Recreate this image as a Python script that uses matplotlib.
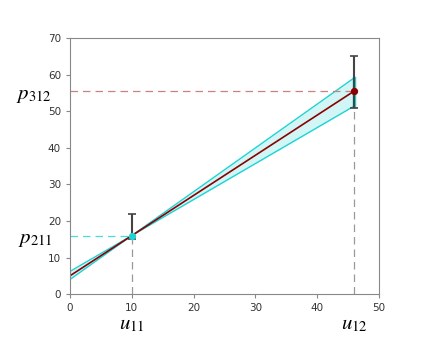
import matplotlib
matplotlib.use('Agg')
import matplotlib.pyplot as plt
import numpy as np

plt.rcParams['mathtext.fontset'] = 'stix'

# data
u_points = [10, 46]
p_points = [16, 55.5]
err_low = [1.0, 4.5]
err_high = [6.0, 9.7]
band_x = [0, 10, 46]
band_upper = [6.2, 16, 59.1]
band_lower = [4.0, 16, 51.4]
fit_x = [0, 46]
fit_y = [5.0, 55.5]
x_labels = [r'$u_{11}$', r'$u_{12}$']
y_labels = [r'$p_{211}$', r'$p_{312}$']

fig = plt.figure(figsize=(4.4, 3.46), dpi=100)
ax = fig.add_axes([0.159, 0.150, 0.702, 0.740])

cyan = '#1fd3d3'
dark_red = '#8b0000'

# confidence band
ax.fill_between(band_x, band_lower, band_upper, color=cyan, alpha=0.2, lw=0)
ax.plot(band_x, band_upper, color=cyan, lw=1)
ax.plot(band_x, band_lower, color=cyan, lw=1)
ax.plot([band_x[-1], band_x[-1]], [band_lower[-1], band_upper[-1]], color=cyan, lw=2.5)

# fitted line
ax.plot(fit_x, fit_y, color=dark_red, lw=1.2)

# guide lines
dash = (0, (6, 4))
ax.plot([0, u_points[0]], [p_points[0], p_points[0]], ls=dash, color=cyan, lw=0.9, alpha=0.8)
ax.plot([0, u_points[1]], [p_points[1], p_points[1]], ls=dash, color='#c98080', lw=0.9)
ax.plot([u_points[0], u_points[0]], [0, p_points[0]], ls=dash, color='#999999', lw=0.9)
ax.plot([u_points[1], u_points[1]], [0, p_points[1] - err_low[1]], ls=dash, color='#999999', lw=0.9)

# error bars
ax.errorbar(u_points, p_points, yerr=[err_low, err_high], fmt='none', ecolor='#444444',
            elinewidth=1.5, capsize=3, capthick=1.2, zorder=3)
ax.scatter([u_points[0]], [p_points[0]], color=cyan, s=18, zorder=4)
ax.scatter([u_points[1]], [p_points[1]], color=dark_red, s=18, zorder=4)

ax.set_xlim(0, 50)
ax.set_ylim(0, 70)
for s in ax.spines.values():
  s.set_color('#888888')
ax.tick_params(colors='#888888', labelcolor='#333333', labelsize=7.5, length=3)

# symbolic labels
for u, lab in zip(u_points, x_labels):
  ax.text(u, -5.5, lab, ha='center', va='top', fontsize=15, clip_on=False)
for p, lab in zip(p_points, y_labels):
  ax.text(-2.9, p - 1, lab, ha='right', va='center', fontsize=15, clip_on=False)

fig.savefig('out.png', dpi=100)
